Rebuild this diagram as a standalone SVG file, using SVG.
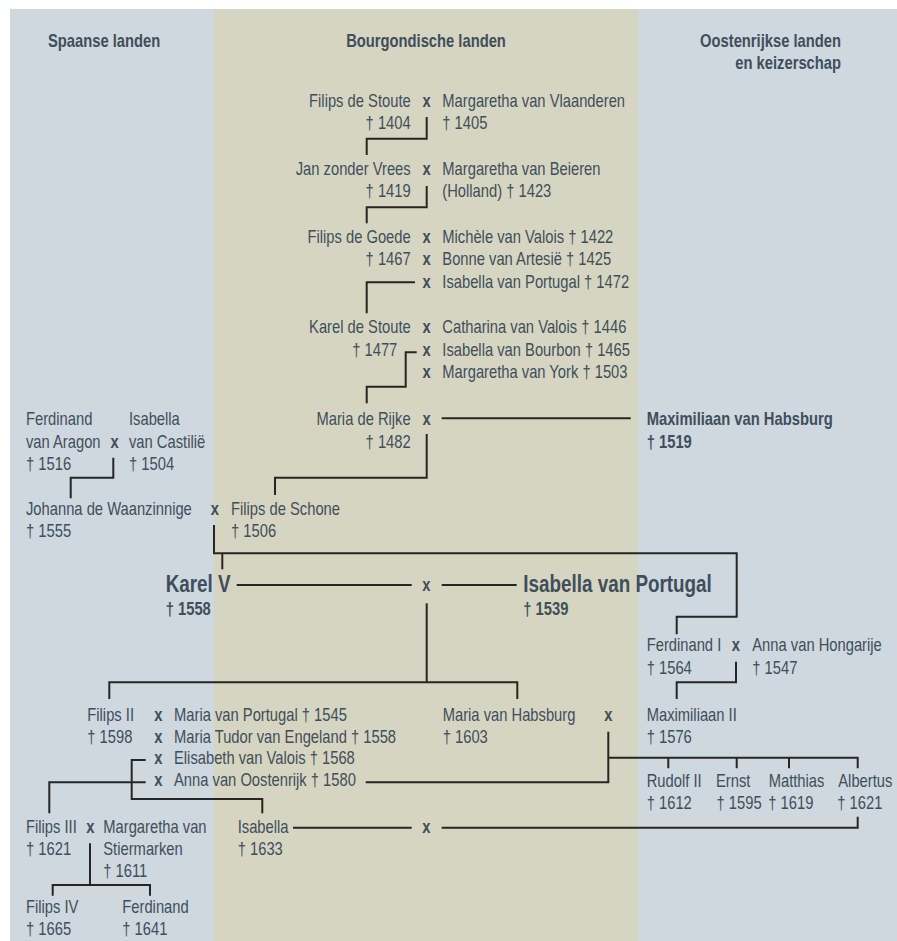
<svg xmlns="http://www.w3.org/2000/svg" width="897" height="941" viewBox="0 0 897 941">
<style>
text{font-family:"Liberation Sans",Arial,sans-serif;font-size:18px;fill:#3e4f5b;transform-box:fill-box;transform-origin:0 0;transform:scaleX(0.82)}
.b{font-weight:bold}
.x{font-weight:bold;text-anchor:middle;transform-origin:50% 0}
.e{text-anchor:end;transform-origin:100% 0}
.m{text-anchor:middle;transform-origin:50% 0}
.big{font-size:23px;font-weight:bold}
.c{fill:none;stroke:#262626;stroke-width:2}
</style>
<rect width="897" height="941" fill="#ffffff"/>
<g id="panels">
<rect x="10" y="9" width="204" height="932" fill="#cfd7df"/>
<rect x="214" y="9" width="424" height="932" fill="#d6d5c2"/>
<rect x="638" y="9" width="259" height="932" fill="#cfd7df"/>
</g>
<g id="headers">
<text class="b" x="48" y="47.5">Spaanse landen</text>
<text class="b m" x="426" y="47.5">Bourgondische landen</text>
<text class="b e" x="841" y="47">Oostenrijkse landen</text>
<text class="b e" x="841" y="69.5">en keizerschap</text>
</g>
<g id="connectors">
<path class="c" d="M426.7 117V138.7H366.7V155"/>
<path class="c" d="M426.7 186V207.3H366.7V223.3"/>
<path class="c" d="M415 282.3H366.7V313.3"/>
<path class="c" d="M416.7 352.3H405.7V386.7H366.7V403.3"/>
<path class="c" d="M441.7 418.3H630.7"/>
<path class="c" d="M426.7 434V477.7H275V495"/>
<path class="c" d="M113.3 457.7V477.7H70.7V498.3"/>
<path class="c" d="M214 525V553.3H736.7V616.7H676.7V634.3"/>
<path class="c" d="M222.3 553.3V569.3"/>
<path class="c" d="M236.7 585H411.7M441.7 585H516.7"/>
<path class="c" d="M426.7 603.3V682.3M109.3 699V682.3H517.3V699"/>
<path class="c" d="M736 661.7V682.3H676.7V699"/>
<path class="c" d="M145.7 760H131.7V799H262.3V813.3"/>
<path class="c" d="M145.7 782.3H49.3V813.3"/>
<path class="c" d="M365.7 782.3H608.3V731.7"/>
<path class="c" d="M608.3 757.7H857.7V768.3M668.3 757.7V768.3M736.7 757.7V768.3M789 757.7V768.3"/>
<path class="c" d="M857.7 816.7V827.7H441.7M293 827.7H411.7"/>
<path class="c" d="M90 843.3V885M52.7 895.7V885H150V895.7"/>
</g>
<g id="filips-de-stoute">
<text class="e" x="410.7" y="107">Filips de Stoute</text>
<text class="e" x="410.7" y="129.5">† 1404</text>
<text class="x" x="426.5" y="107">x</text>
<text x="442.3" y="107">Margaretha van Vlaanderen</text>
<text x="442.3" y="129.5">† 1405</text>
</g>
<g id="jan-zonder-vrees">
<text class="e" x="410.7" y="175">Jan zonder Vrees</text>
<text class="e" x="410.7" y="197.5">† 1419</text>
<text class="x" x="426.5" y="175">x</text>
<text x="442.3" y="175">Margaretha van Beieren</text>
<text x="442.3" y="197.5">(Holland) † 1423</text>
</g>
<g id="filips-de-goede">
<text class="e" x="410.7" y="242.7">Filips de Goede</text>
<text class="e" x="410.7" y="265.5">† 1467</text>
<text class="x" x="426.5" y="242.7">x</text>
<text class="x" x="426.5" y="265.5">x</text>
<text class="x" x="426.5" y="288.3">x</text>
<text x="442.3" y="242.7">Michèle van Valois † 1422</text>
<text x="442.3" y="265.5">Bonne van Artesië † 1425</text>
<text x="442.3" y="288.3">Isabella van Portugal † 1472</text>
</g>
<g id="karel-de-stoute">
<text class="e" x="410.7" y="333.3">Karel de Stoute</text>
<text class="e" x="397.3" y="356.2">† 1477</text>
<text class="x" x="426.5" y="333.3">x</text>
<text class="x" x="426.5" y="356.2">x</text>
<text class="x" x="426.5" y="378.5">x</text>
<text x="442.3" y="333.3">Catharina van Valois † 1446</text>
<text x="442.3" y="356.2">Isabella van Bourbon † 1465</text>
<text x="442.3" y="378.5">Margaretha van York † 1503</text>
</g>
<g id="maria-de-rijke">
<text class="e" x="410.7" y="425">Maria de Rijke</text>
<text class="e" x="410.7" y="447.7">† 1482</text>
<text class="x" x="426.5" y="425">x</text>
</g>
<g id="maximiliaan-van-habsburg">
<text class="b" x="646.7" y="425">Maximiliaan van Habsburg</text>
<text class="b" x="646.7" y="447.7">† 1519</text>
</g>
<g id="ferdinand-van-aragon">
<text x="26" y="425">Ferdinand</text>
<text x="26" y="447.7">van Aragon</text>
<text x="26" y="470">† 1516</text>
<text class="x" x="114.5" y="447.7">x</text>
</g>
<g id="isabella-van-castilie">
<text x="129" y="425">Isabella</text>
<text x="129" y="447.7">van Castilië</text>
<text x="129" y="470">† 1504</text>
</g>
<g id="johanna-de-waanzinnige">
<text x="26" y="515">Johanna de Waanzinnige</text>
<text x="26" y="537.3">† 1555</text>
<text class="x" x="214.8" y="515">x</text>
</g>
<g id="filips-de-schone">
<text x="231" y="515">Filips de Schone</text>
<text x="231" y="537.3">† 1506</text>
</g>
<g id="karel-v">
<text class="big" x="165.7" y="591.7">Karel V</text>
<text class="b" x="165.7" y="615">† 1558</text>
<text class="x" x="426.2" y="591">x</text>
</g>
<g id="isabella-van-portugal">
<text class="big" x="523.3" y="591.7">Isabella van Portugal</text>
<text class="b" x="523.3" y="615">† 1539</text>
</g>
<g id="ferdinand-i">
<text x="646.7" y="650.7">Ferdinand I</text>
<text x="646.7" y="674">† 1564</text>
<text class="x" x="735.8" y="650.7">x</text>
<text x="752.3" y="650.7">Anna van Hongarije</text>
<text x="752.3" y="674">† 1547</text>
</g>
<g id="filips-ii">
<text x="87.3" y="721.5">Filips II</text>
<text x="87.3" y="743">† 1598</text>
<text class="x" x="158.2" y="721.5">x</text>
<text class="x" x="158.2" y="743">x</text>
<text class="x" x="158.2" y="764.5">x</text>
<text class="x" x="158.2" y="786.5">x</text>
<text x="174" y="721.5">Maria van Portugal † 1545</text>
<text x="174" y="743">Maria Tudor van Engeland † 1558</text>
<text x="174" y="764.5">Elisabeth van Valois † 1568</text>
<text x="174" y="786.5">Anna van Oostenrijk † 1580</text>
</g>
<g id="maria-van-habsburg">
<text x="442.7" y="721.5">Maria van Habsburg</text>
<text x="442.7" y="743">† 1603</text>
<text class="x" x="608.2" y="721.5">x</text>
</g>
<g id="maximiliaan-ii">
<text x="646.7" y="721.5">Maximiliaan II</text>
<text x="646.7" y="743">† 1576</text>
</g>
<g id="rudolf-ii">
<text x="646.7" y="787.3">Rudolf II</text>
<text x="646.7" y="809.5">† 1612</text>
</g>
<g id="ernst">
<text x="716" y="787.3">Ernst</text>
<text x="716.5" y="809.5">† 1595</text>
</g>
<g id="matthias">
<text x="768.7" y="787.3">Matthias</text>
<text x="768.3" y="809.5">† 1619</text>
</g>
<g id="albertus">
<text x="838.3" y="787.3">Albertus</text>
<text x="837.3" y="809.5">† 1621</text>
</g>
<g id="isabella">
<text x="237.7" y="833.3">Isabella</text>
<text x="237.7" y="855">† 1633</text>
<text class="x" x="426.2" y="833.3">x</text>
</g>
<g id="filips-iii">
<text x="26" y="833.3">Filips III</text>
<text x="26" y="855">† 1621</text>
<text class="x" x="90.2" y="833.3">x</text>
<text x="103.3" y="833.3">Margaretha van</text>
<text x="103.3" y="855">Stiermarken</text>
<text x="103.3" y="876.7">† 1611</text>
</g>
<g id="filips-iv">
<text x="26" y="913.3">Filips IV</text>
<text x="26" y="935">† 1665</text>
</g>
<g id="ferdinand">
<text x="122.3" y="913.3">Ferdinand</text>
<text x="122.3" y="935">† 1641</text>
</g>
</svg>
